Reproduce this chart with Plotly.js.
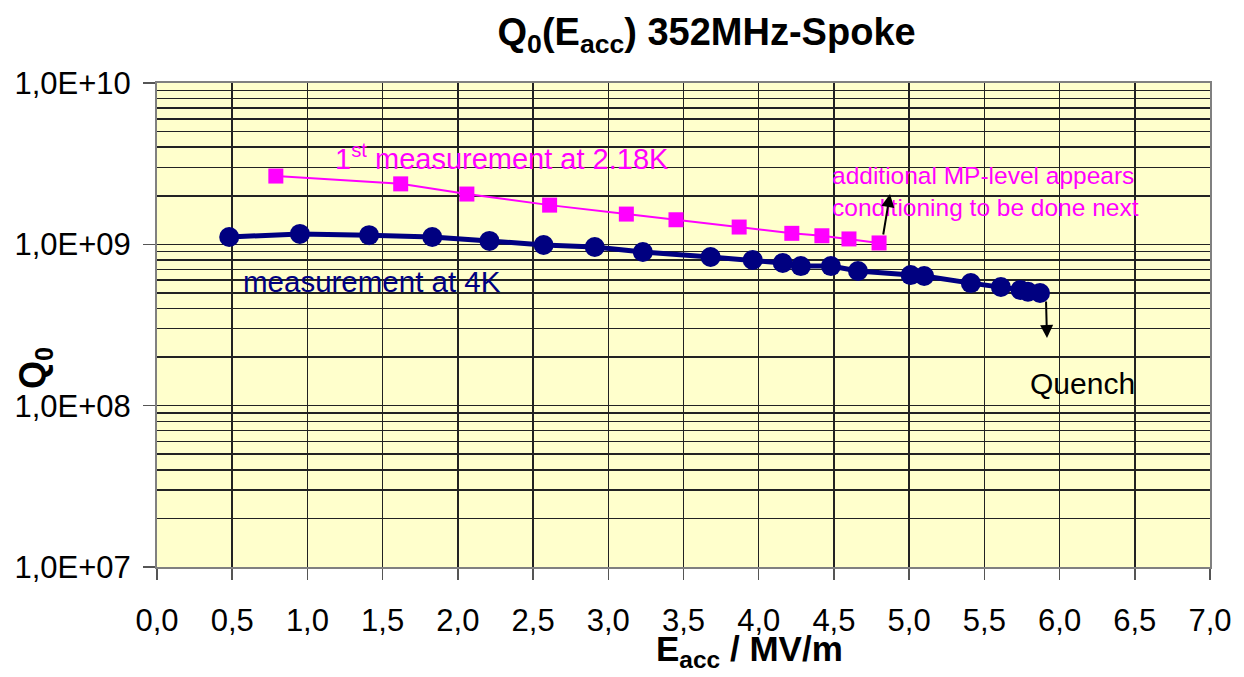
<!DOCTYPE html>
<html><head><meta charset="utf-8">
<script src="https://cdn.plot.ly/plotly-3.0.1.min.js"></script>
<style>html,body{margin:0;padding:0;background:#fff}#c{width:1244px;height:677px}</style>
</head><body><div id="c"></div>
<script>
// 1st measurement at 2.18 K
const eacc218 = [0.79, 1.62, 2.06, 2.61, 3.12, 3.45, 3.87, 4.22, 4.42, 4.60, 4.80];
const q218 = [2.65e9, 2.37e9, 2.05e9, 1.75e9, 1.54e9, 1.42e9, 1.28e9, 1.17e9, 1.13e9, 1.08e9, 1.02e9];
// measurement at 4 K
const eacc4 = [0.48, 0.95, 1.41, 1.83, 2.21, 2.57, 2.91, 3.23, 3.68, 3.96, 4.16, 4.28, 4.48, 4.66, 5.01, 5.10, 5.41, 5.61, 5.74, 5.79, 5.87];
const q4 = [1.11e9, 1.16e9, 1.14e9, 1.11e9, 1.05e9, 0.99e9, 0.962e9, 0.896e9, 0.834e9, 0.80e9, 0.766e9, 0.733e9, 0.733e9, 0.683e9, 0.645e9, 0.636e9, 0.575e9, 0.544e9, 0.522e9, 0.508e9, 0.499e9];
// axis ticks
const yTickVals = [1e7, 1e8, 1e9, 1e10];
const yTickText = ["1,0E+07", "1,0E+08", "1,0E+09", "1,0E+10"];
const yMinorVals = [];
[1e7, 1e8, 1e9].forEach(d => { for (let k = 2; k <= 9; k++) yMinorVals.push(d * k); });
const xTickVals = [0,0.5,1,1.5,2,2.5,3,3.5,4,4.5,5,5.5,6,6.5,7];
const xTickText = ["0,0","0,5","1,0","1,5","2,0","2,5","3,0","3,5","4,0","4,5","5,0","5,5","6,0","6,5","7,0"];

const font = "Liberation Sans, Arial, sans-serif";

const traces = [
  {x: eacc4, y: q4, mode: "lines+markers", type: "scatter", name: "4K",
   line: {color: "#000080", width: 5}, marker: {symbol: "circle", size: 20, color: "#000080"}},
  {x: eacc218, y: q218, mode: "lines+markers", type: "scatter", name: "2.18K",
   line: {color: "#FF00FF", width: 2}, marker: {symbol: "square", size: 15, color: "#FF00FF"}}
];

// pixel -> data helpers used only for placing the free text labels
function px2x(p){ return (p - 157) / (1210 - 157) * 7; }
function px2ly(p){ return 10 - (p - 83) / ((567 - 83) / 3); }

const layout = {
  width: 1244, height: 677,
  margin: {l: 157, r: 34, t: 83, b: 110},
  paper_bgcolor: "#ffffff", plot_bgcolor: "#FFFFCC",
  showlegend: false,
  title: {text: "<b>Q<sub>0</sub>(E<sub>acc</sub>) 352MHz-Spoke</b>", x: 0.568, xanchor: "center", y: 0.953, yanchor: "middle",
          font: {family: font, size: 38, color: "#000"}},
  xaxis: {range: [0, 7], tickmode: "array", tickvals: xTickVals, ticktext: xTickText,
          showgrid: true, gridcolor: "#222", gridwidth: 1.5, zeroline: false,
          showline: true, linecolor: "#808080", linewidth: 2, mirror: true,
          ticks: "outside", ticklen: 11, tickcolor: "#555", tickwidth: 1.5, ticklabelstandoff: 14,
          tickfont: {family: font, size: 31, color: "#000"}},
  yaxis: {type: "log", range: [7, 10], tickmode: "array", tickvals: yTickVals, ticktext: yTickText,
          showgrid: true, gridcolor: "#222", gridwidth: 1.5, zeroline: false,
          showline: true, linecolor: "#808080", linewidth: 2, mirror: true,
          ticks: "outside", ticklen: 12, tickcolor: "#555", tickwidth: 1.5, ticklabelstandoff: 6,
          tickfont: {family: font, size: 31, color: "#000"},
          minor: {tickmode: "array", tickvals: yMinorVals, showgrid: true, gridcolor: "#222", gridwidth: 1.5, ticks: ""}},
  annotations: [
    {text: "<b>E<sub>acc</sub> / MV/m</b>", xref: "paper", yref: "paper", x: (749 - 157) / 1053, y: -(675 - 567) / 484,
     xanchor: "center", yanchor: "bottom", showarrow: false, font: {family: font, size: 35, color: "#000"}},
    {text: "<b>Q<sub>0</sub></b>", xref: "paper", yref: "paper", x: (35 - 157) / 1053, y: (567 - 368) / 484, textangle: -90,
     xanchor: "center", yanchor: "middle", showarrow: false, font: {family: font, size: 36, color: "#000"}},
    {text: "1<sup>st</sup> measurement at 2.18K", x: px2x(333), y: px2ly(157), xanchor: "left", yanchor: "middle",
     showarrow: false, font: {family: font, size: 29, color: "#FF00FF"}},
    {text: "measurement at 4K", x: px2x(241), y: px2ly(281), xanchor: "left", yanchor: "middle",
     showarrow: false, font: {family: font, size: 29.5, color: "#000080"}},
    {text: "additional MP-level appears<br>conditioning to be done next", x: px2x(830), y: px2ly(191), xanchor: "left", yanchor: "middle",
     align: "left", showarrow: false, font: {family: font, size: 24.5, color: "#FF00FF"}},
    {text: "Quench", x: px2x(1028), y: px2ly(383), xanchor: "left", yanchor: "middle",
     showarrow: false, font: {family: font, size: 30, color: "#000"}},
    {x: px2x(890), y: px2ly(194), ax: px2x(883), ay: px2ly(236), axref: "x", ayref: "y",
     text: "", showarrow: true, arrowhead: 2, arrowsize: 1.3, arrowwidth: 2, arrowcolor: "#000"},
    {x: px2x(1047), y: px2ly(338), ax: px2x(1046), ay: px2ly(300), axref: "x", ayref: "y",
     text: "", showarrow: true, arrowhead: 2, arrowsize: 1.3, arrowwidth: 2, arrowcolor: "#000"}
  ]
};

Plotly.newPlot("c", traces, layout, {displayModeBar: false, staticPlot: true});
</script></body></html>
